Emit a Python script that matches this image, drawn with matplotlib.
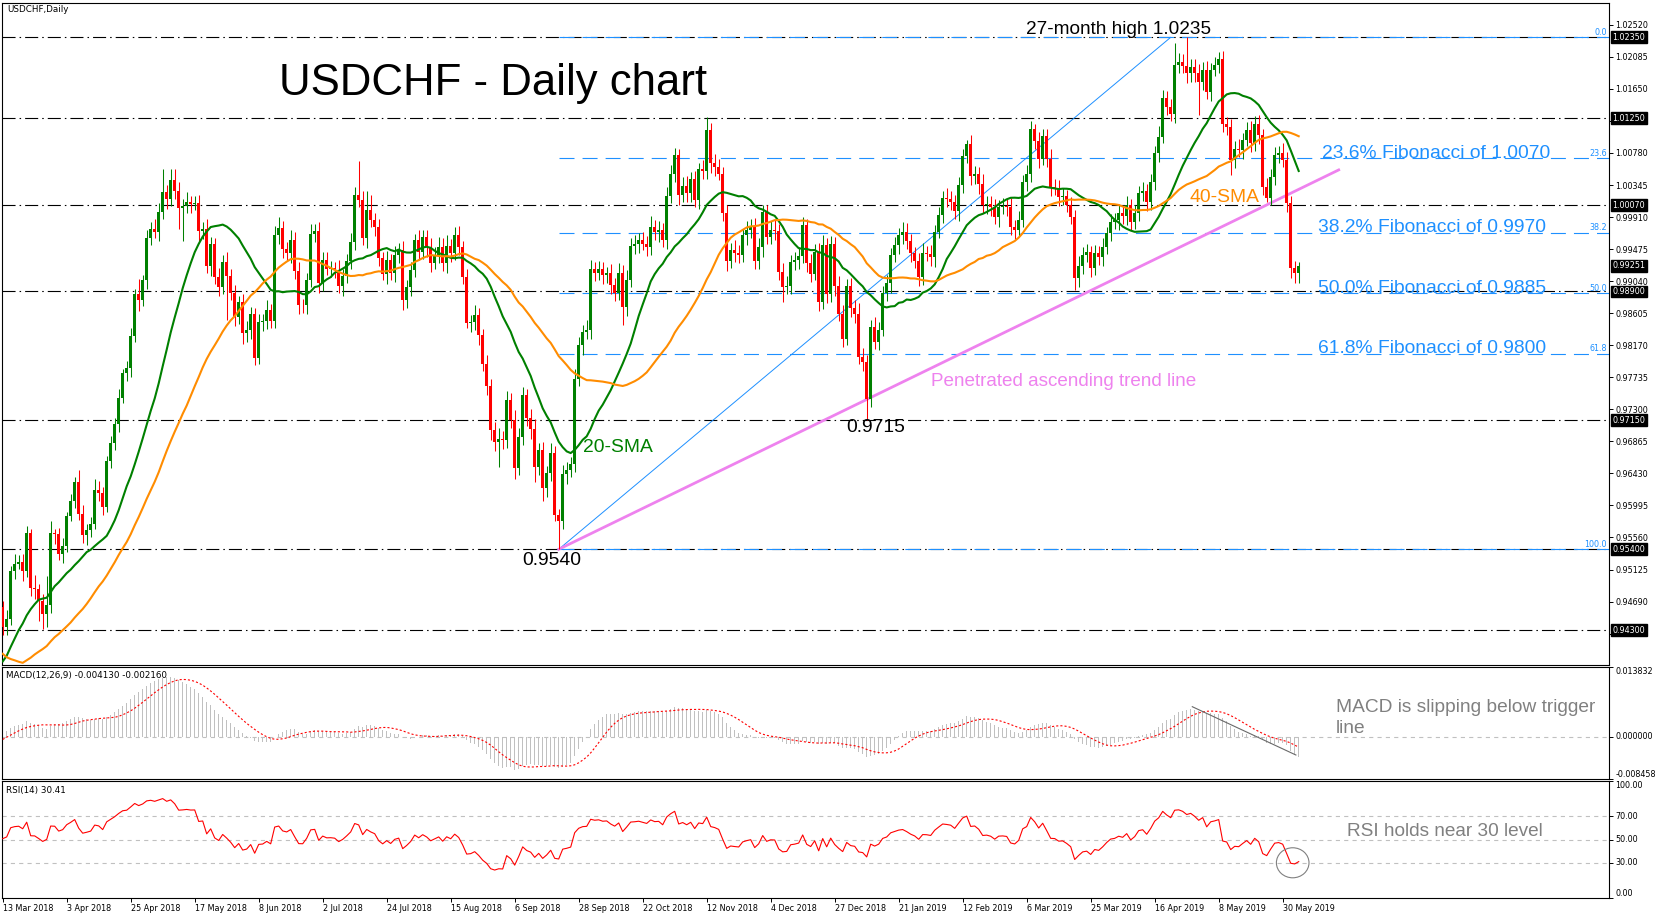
import numpy as np
import pandas as pd
import matplotlib
matplotlib.use('Agg')
import matplotlib.pyplot as plt
from matplotlib.patches import Ellipse

plt.rcParams['lines.scale_dashes'] = False
plt.rcParams['font.family'] = ['DejaVu Sans']

# daily closes (in 1e-4) before the visible window, only used to warm up the indicators
pre_closes = [9880, 9870, 9860, 9890, 9880, 9870, 9830, 9800, 9740, 9710, 9760, 9750, 9770, 9790, 9790, 9740, 9710, 9640, 9620,
              9610, 9630, 9610, 9590, 9600, 9570, 9420, 9350, 9310, 9320, 9310, 9300, 9310, 9330, 9360, 9340, 9380, 9390, 9370, 9350,
              9330, 9290, 9270, 9290, 9300, 9330, 9340, 9320, 9350, 9350, 9420, 9440, 9410, 9400, 9430, 9420, 9460, 9510, 9510, 9480]

first_open = 9462
closes = [9434, 9445, 9511, 9520, 9523, 9511, 9562, 9487, 9486, 9470, 9452, 9464, 9562, 9561, 9534, 9545, 9585, 9606, 9632, 9588, 9559, 9566, 9574, 9620, 9616,
          9598, 9660, 9684, 9710, 9746, 9779, 9786, 9830, 9887, 9878, 9905, 9963, 9975, 9971, 9998, 10025, 10015, 10041, 10027, 10003, 10006, 10011, 10009, 10010, 9972,
          9975, 9924, 9954, 9910, 9896, 9930, 9911, 9888, 9855, 9876, 9833, 9838, 9860, 9800, 9848, 9850, 9865, 9850, 9967, 9976, 9948, 9942, 9960, 9918, 9872,
          9871, 9905, 9968, 9972, 9901, 9933, 9921, 9922, 9919, 9898, 9911, 9932, 9957, 10021, 10014, 9962, 10001, 9987, 9977, 9935, 9914, 9933, 9915, 9939, 9946,
          9878, 9896, 9919, 9960, 9944, 9964, 9951, 9929, 9940, 9951, 9928, 9952, 9942, 9967, 9951, 9910, 9847, 9849, 9858, 9831, 9792, 9762, 9702, 9685, 9690,
          9688, 9743, 9716, 9650, 9693, 9750, 9718, 9703, 9652, 9675, 9623, 9643, 9671, 9587, 9579, 9642, 9648, 9656, 9771, 9817, 9835, 9838, 9921, 9915, 9920,
          9912, 9915, 9899, 9888, 9915, 9869, 9906, 9952, 9955, 9960, 9955, 9950, 9978, 9971, 9973, 9960, 10019, 10050, 10075, 10021, 10033, 10023, 10042, 10014, 10056,
          10053, 10109, 10064, 10059, 10050, 9996, 9932, 9946, 9942, 9939, 9966, 9973, 9978, 9932, 9951, 9998, 9964, 9973, 9972, 9917, 9896, 9898, 9930, 9933, 9938,
          9980, 9928, 9914, 9944, 9876, 9953, 9887, 9954, 9898, 9860, 9826, 9898, 9867, 9860, 9801, 9794, 9744, 9842, 9822, 9838, 9888, 9901, 9940, 9953, 9966,
          9971, 9958, 9942, 9931, 9910, 9942, 9941, 9937, 9971, 9994, 10017, 10015, 10012, 9999, 10034, 10074, 10090, 10047, 10050, 10036, 10007, 10009, 10004, 9991, 10005,
          10006, 10004, 9978, 9974, 9987, 10038, 10050, 10110, 10094, 10070, 10101, 10070, 10032, 10031, 10018, 10019, 10007, 9991, 9908, 9925, 9940, 9943, 9922, 9942, 9937,
          9951, 9969, 9984, 9987, 9996, 9992, 10007, 9984, 9997, 10023, 10027, 10012, 10038, 10078, 10100, 10152, 10140, 10131, 10197, 10201, 10196, 10186, 10195, 10186, 10174,
          10191, 10161, 10191, 10197, 10205, 10118, 10113, 10069, 10084, 10082, 10096, 10109, 10091, 10118, 10102, 10032, 10017, 10046, 10075, 10078, 10069, 10010, 9922, 9915, 9925]

# wick lengths above / below the candle body, in pips
upper_wick = [8, 12, 6, 14, 9, 11, 10, 5, 18, 7, 9, 40, 17, 6, 8, 10, 6, 9, 6, 16, 12, 8, 10, 15, 13,
              9, 7, 10, 8, 12, 6, 9, 11, 7, 20, 8, 10, 9, 14, 12, 31, 10, 15, 15, 12, 9, 14, 8, 10, 11,
              9, 13, 10, 8, 12, 10, 14, 9, 11, 8, 10, 12, 9, 7, 11, 10, 13, 8, 12, 15, 10, 9, 14, 11, 12,
              8, 10, 13, 9, 12, 10, 11, 9, 8, 14, 10, 9, 12, 11, 46, 12, 25, 20, 10, 11, 9, 12, 8, 13, 10,
              12, 9, 11, 8, 14, 10, 9, 12, 10, 13, 11, 14, 9, 10, 12, 8, 11, 9, 13, 10, 8, 12, 9, 11, 14,
              10, 12, 9, 13, 11, 10, 8, 12, 14, 9, 11, 10, 13, 9, 8, 12, 10, 9, 14, 11, 10, 13, 12, 9, 11,
              10, 8, 12, 9, 14, 11, 13, 10, 12, 9, 11, 10, 14, 9, 12, 10, 13, 11, 10, 9, 12, 14, 10, 11, 9,
              12, 18, 10, 13, 11, 9, 12, 10, 14, 11, 9, 13, 10, 12, 11, 10, 9, 12, 14, 10, 11, 13, 9, 10, 12,
              11, 9, 13, 10, 12, 14, 9, 11, 10, 13, 12, 9, 10, 11, 14, 12, 10, 9, 13, 11, 10, 12, 9, 11, 10,
              13, 12, 10, 9, 11, 14, 10, 12, 9, 11, 10, 13, 12, 9, 11, 10, 5, 12, 10, 9, 13, 11, 10, 12, 9,
              11, 10, 13, 9, 12, 10, 11, 11, 7, 12, 10, 9, 13, 11, 10, 12, 9, 11, 10, 13, 10, 12, 9, 11, 10,
              12, 9, 11, 10, 13, 10, 12, 9, 11, 10, 12, 9, 11, 10, 14, 12, 10, 11, 30, 13, 11, 39, 10, 11, 13,
              10, 12, 9, 11, 10, 12, 9, 11, 10, 13, 9, 11, 12, 10, 11, 9, 12, 10, 11, 9, 13, 11, 9, 10, 5]
lower_wick = [10, 11, 8, 12, 7, 14, 9, 11, 13, 27, 20, 18, 10, 14, 8, 12, 9, 7, 10, 8, 11, 13, 9, 7, 10,
              12, 8, 10, 9, 11, 7, 10, 12, 9, 14, 8, 11, 10, 9, 12, 10, 13, 9, 11, 28, 45, 10, 12, 9, 14,
              11, 9, 13, 10, 12, 9, 60, 10, 12, 9, 14, 11, 13, 10, 9, 12, 11, 10, 9, 13, 12, 10, 14, 11, 12,
              10, 12, 9, 11, 13, 10, 9, 12, 11, 10, 14, 9, 12, 11, 10, 9, 13, 10, 12, 11, 9, 14, 10, 12, 11,
              13, 10, 12, 9, 11, 10, 14, 12, 9, 11, 10, 13, 12, 9, 11, 10, 6, 12, 11, 14, 10, 12, 13, 11, 33,
              12, 10, 11, 14, 9, 12, 10, 13, 20, 11, 18, 12, 10, 9, 39, 12, 14, 10, 11, 9, 13, 10, 12, 11, 9,
              12, 10, 13, 11, 9, 24, 12, 10, 11, 13, 9, 12, 10, 11, 14, 10, 12, 9, 11, 13, 10, 12, 11, 9, 12,
              11, 10, 13, 12, 9, 11, 14, 10, 12, 11, 9, 13, 10, 12, 11, 14, 10, 9, 12, 11, 20, 10, 12, 11, 13,
              10, 12, 11, 9, 13, 10, 12, 11, 14, 10, 12, 9, 11, 13, 10, 12, 29, 11, 10, 12, 9, 11, 13, 10, 12,
              11, 10, 12, 9, 13, 11, 10, 12, 14, 9, 11, 10, 12, 11, 13, 10, 9, 12, 11, 14, 10, 12, 11, 9, 13,
              10, 12, 11, 13, 9, 10, 12, 11, 10, 12, 9, 11, 13, 10, 12, 11, 9, 10, 16, 12, 11, 10, 12, 9, 11,
              12, 10, 11, 9, 13, 10, 12, 11, 9, 12, 10, 13, 11, 10, 12, 9, 11, 10, 12, 11, 10, 13, 12, 11, 45,
              11, 10, 12, 9, 11, 12, 10, 21, 11, 10, 12, 9, 11, 10, 12, 11, 5, 10, 12, 11, 10, 12, 14, 14, 14]

date_labels = ["13 Mar 2018", "3 Apr 2018", "25 Apr 2018", "17 May 2018", "8 Jun 2018", "2 Jul 2018",
               "24 Jul 2018", "15 Aug 2018", "6 Sep 2018", "28 Sep 2018", "22 Oct 2018", "12 Nov 2018",
               "4 Dec 2018", "27 Dec 2018", "21 Jan 2019", "12 Feb 2019", "6 Mar 2019", "25 Mar 2019",
               "16 Apr 2019", "8 May 2019", "30 May 2019"]
bars_per_label = 16

price_ticks = [1.02520, 1.02085, 1.01650, 1.01215, 1.00780, 1.00345, 0.99910, 0.99475, 0.99040, 0.98605,
               0.98170, 0.97735, 0.97300, 0.96865, 0.96430, 0.95995, 0.95560, 0.95125, 0.94690, 0.94255]
box_levels = [1.02350, 1.01250, 1.00070, 0.99251, 0.98900, 0.97150, 0.95400, 0.94300]
hline_levels = [1.0235, 1.0125, 1.0007, 0.9890, 0.9715, 0.9540, 0.9430]
macd_ticks = [0.013832, 0.0, -0.008458]
rsi_ticks = [100, 70, 50, 30, 0]

# fibonacci retracement between the Sep 2018 low and the Apr 2019 high
fib_low, fib_high = 0.9540, 1.0235
fib_low_bar, fib_high_bar = 139, 292
fib_levels = [0.0, 23.6, 38.2, 50.0, 61.8, 100.0]
fib_texts = {23.6: "23.6% Fibonacci of 1.0070", 38.2: "38.2% Fibonacci of 0.9970",
             50.0: "50.0% Fibonacci of 0.9885", 61.8: "61.8% Fibonacci of 0.9800"}

# ascending trend line and the macd trend line
trend_start = (139, 0.9540)
trend_end = (334, 1.0055)
macd_line = ([297.4, 323.3], [0.00597, -0.00367])

# ---- derived series ----
n_pre = len(pre_closes)
c = np.array(closes) / 1e4
o = np.r_[first_open, closes[:-1]] / 1e4
hi = np.maximum(o, c) + np.array(upper_wick) / 1e4
lo = np.minimum(o, c) - np.array(lower_wick) / 1e4
x = np.arange(len(c))

full = pd.Series(pre_closes + closes) / 1e4
sma20 = full.rolling(20).mean().values[n_pre:]
sma40 = full.rolling(40).mean().values[n_pre:]
ema12 = full.ewm(span=12, adjust=False).mean()
ema26 = full.ewm(span=26, adjust=False).mean()
macd = ema12 - ema26
signal = macd.rolling(9).mean()
macd = macd.values[n_pre:]
signal = signal.values[n_pre:]
delta = full.diff()
gain = delta.clip(lower=0).ewm(alpha=1 / 14, adjust=False).mean()
loss = (-delta.clip(upper=0)).ewm(alpha=1 / 14, adjust=False).mean()
rsi = (100 - 100 / (1 + gain / loss)).values[n_pre:]

BLUE = '#1E90FF'
GREEN = '#008000'
RED = '#FF0000'
ORANGE = '#FF8C00'
VIOLET = '#EE82EE'
GRAY = '#808080'
SILVER = '#C0C0C0'
ANN = 'Liberation Sans'

W, H = 1662, 919
fig = plt.figure(figsize=(W / 100, H / 100), dpi=100)


def rect(top, bottom):
    return [2 / W, 1 - bottom / H, 1607 / W, (bottom - top) / H]


ax = fig.add_axes(rect(3, 665))
ax_m = fig.add_axes(rect(667.3, 779))
ax_r = fig.add_axes(rect(781.3, 897.7))
xmax = 401.575
for a in (ax, ax_m, ax_r):
    a.set_xlim(-0.175, xmax)
    for s in a.spines.values():
        s.set_linewidth(0.8)
        s.set_color('black')
    a.yaxis.tick_right()
    a.tick_params(axis='y', length=3, width=0.7, labelsize=5.8, pad=1.5)

# ---- price panel ----
ax.set_ylim(0.93829, 1.02816)
ax.set_xticks([])
dashdot = (0, (9.4, 2.9, 1.1, 2.9))
for lvl in hline_levels:
    ax.axhline(lvl, color='black', lw=0.8, linestyle=dashdot, zorder=1)

fib_prices = [fib_high - f / 100 * (fib_high - fib_low) for f in fib_levels]
ax.hlines(fib_prices, fib_low_bar, xmax, colors=BLUE, lw=0.8, linestyles=[(0, (10.8, 5.8))], zorder=1.5)
for f, p in zip(fib_levels, fib_prices):
    ax.text(401.0, p + 0.00008, f'{f:.1f}', ha='right', va='bottom', color=BLUE, fontsize=5.8)
    if f in fib_texts:
        ax.text(329.8 if f == 23.6 else 328.9, p + 0.00008, fib_texts[f], ha='left', va='baseline',
                color=BLUE, fontsize=13.9, family=ANN)
ax.plot([fib_low_bar, fib_high_bar], [fib_low, fib_high], color=BLUE, lw=0.7, zorder=2)
ax.plot([trend_start[0], trend_end[0]], [trend_start[1], trend_end[1]], color=VIOLET, lw=2.0, zorder=2)

col = np.where(c >= o, GREEN, RED)
ax.vlines(x, lo, hi, colors=col, lw=0.75, zorder=3)
ax.bar(x, np.maximum(np.abs(c - o), 0.00005), bottom=np.minimum(o, c), width=0.72, color=col, lw=0, zorder=3)
ax.plot(x, sma20, color=GREEN, lw=1.5, zorder=4)
ax.plot(x, sma40, color=ORANGE, lw=1.5, zorder=4)

# tick labels that sit under a highlighted price box are left blank, as on the terminal
ax.set_yticks(price_ticks)
ax.set_yticklabels(['' if min(abs(v - b) for b in box_levels) < 0.0006 else f'{v:.5f}' for v in price_ticks])
for v in box_levels:
    ax.text(1.0022, v, f'{v:.5f}', transform=ax.get_yaxis_transform(), ha='left', va='center',
            color='white', fontsize=5.8, clip_on=False, zorder=10,
            bbox=dict(boxstyle='square,pad=0.18', fc='black', ec='black'))

ax.text(69.1, 1.01567, 'USDCHF - Daily chart', fontsize=31.5, family=ANN, color='black', va='baseline')
ax.text(255.8, 1.02391, '27-month high 1.0235', fontsize=13.7, family=ANN, color='black', va='baseline')
ax.text(296.8, 1.00114, '40-SMA', fontsize=13.9, family=ANN, color=ORANGE, va='baseline')
ax.text(145.0, 0.96726, '20-SMA', fontsize=13.9, family=ANN, color=GREEN, va='baseline')
ax.text(232.1, 0.97616, 'Penetrated ascending trend line', fontsize=13.6, family=ANN, color=VIOLET, va='baseline')
ax.text(211.0, 0.96990, '0.9715', fontsize=13.9, family=ANN, color='black', va='baseline')
ax.text(130.0, 0.95187, '0.9540', fontsize=13.9, family=ANN, color='black', va='baseline')
fig.text(7 / W, 1 - 10 / H, 'USDCHF,Daily', fontsize=6.3, va='center', ha='left')

# ---- MACD panel ----
ax_m.set_ylim(-0.008458, 0.013832)
ax_m.set_xticks([])
ax_m.axhline(0, color=SILVER, lw=0.8, linestyle=(0, (3, 3)), zorder=1)
ax_m.bar(x, macd, width=0.38, color=SILVER, lw=0, zorder=2)
ax_m.plot(x, signal, color=RED, lw=0.8, linestyle=(0, (1.5, 1.5)), zorder=3)
ax_m.plot(macd_line[0], macd_line[1], color='#696969', lw=0.8, zorder=4)
ax_m.set_yticks(macd_ticks)
ax_m.set_yticklabels([f'{v:.6f}' for v in macd_ticks])
for lbl, va in zip(ax_m.get_yticklabels(), ['top', 'center', 'bottom']):
    lbl.set_va(va)
ax_m.text(0.0025, 0.97, 'MACD(12,26,9) -0.004130 -0.002160', transform=ax_m.transAxes,
          fontsize=6.3, va='top', ha='left')
ax_m.text(333.2, 0.00491, 'MACD is slipping below trigger', fontsize=13.8, family=ANN, color=GRAY, va='baseline')
ax_m.text(333.2, 0.00066, 'line', fontsize=13.8, family=ANN, color=GRAY, va='baseline')

# ---- RSI panel ----
ax_r.set_ylim(0, 100)
for lvl in (70, 50, 30):
    ax_r.axhline(lvl, color=SILVER, lw=0.8, linestyle=(0, (3, 3)), zorder=1)
ax_r.plot(x, rsi, color=RED, lw=0.8, zorder=3)
ax_r.add_patch(Ellipse((322.5, 30), 8.15, 25.8, fill=False, ec=GRAY, lw=0.8, zorder=4))
ax_r.set_yticks(rsi_ticks)
ax_r.set_yticklabels([f'{v:.2f}' for v in rsi_ticks])
for lbl, va in zip(ax_r.get_yticklabels(), ['top', 'center', 'center', 'center', 'bottom']):
    lbl.set_va(va)
ax_r.text(0.0025, 0.96, 'RSI(14) 30.41', transform=ax_r.transAxes, fontsize=6.3, va='top', ha='left')
ax_r.text(336.0, 53.0, 'RSI holds near 30 level', fontsize=13.7, family=ANN, color=GRAY, va='baseline')

ax_r.set_xticks(np.arange(len(date_labels)) * bars_per_label)
ax_r.set_xticklabels(date_labels)
ax_r.tick_params(axis='x', length=3, width=0.7, labelsize=5.8, pad=1.5)
for lbl in ax_r.get_xticklabels():
    lbl.set_ha('left')

fig.savefig('out.png', dpi=100, facecolor='white')
